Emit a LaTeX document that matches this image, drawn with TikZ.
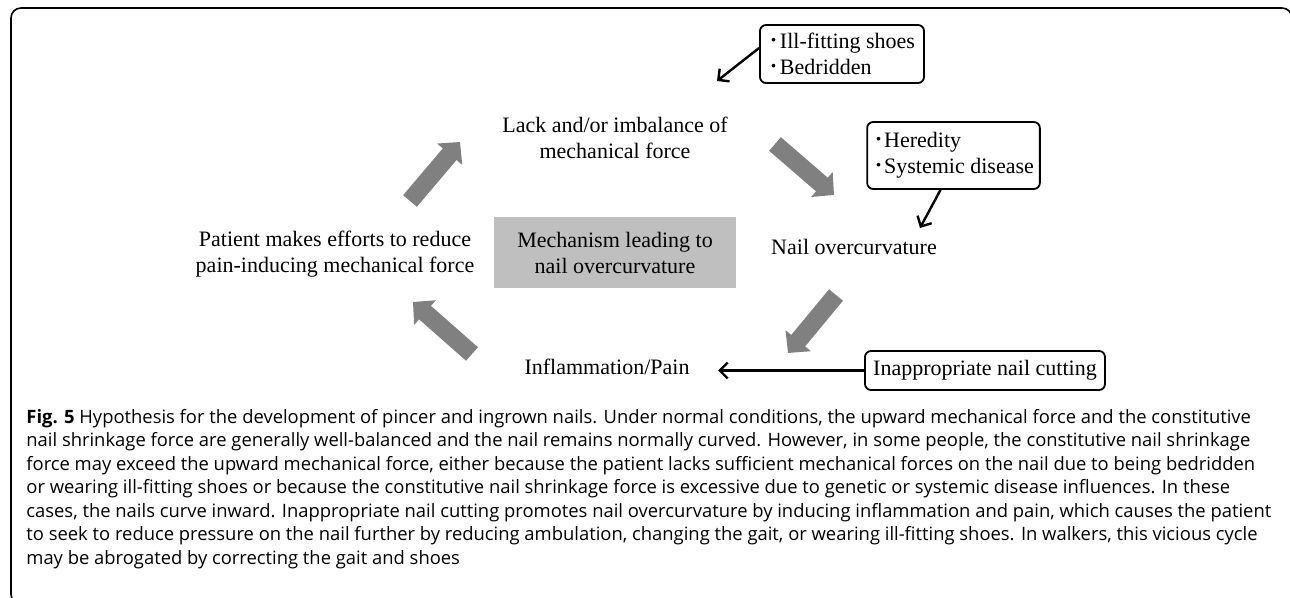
\documentclass[tikz,border=0pt]{standalone}
\usepackage{fontspec}
\setmainfont{Liberation Serif}
\newfontfamily\capfont{Open Sans}
\newfontfamily\dotfont{Noto Sans CJK JP}
\usepackage{tikz}
\usetikzlibrary{arrows.meta}
\usetikzlibrary{positioning}
\definecolor{boxgray}{HTML}{BFBFBF}
\definecolor{arrowgray}{HTML}{808080}
\tikzset{basic box/.style={draw,rounded corners=3pt,line width=0.9pt}}
\tikzset{cause box/.style={basic box,align=left,inner xsep=3pt}}
\tikzset{big arrow/.style={draw=arrowgray,
                           line width=9pt,
                           -{Triangle[length=8pt,width=16pt]}}}
\tikzset{thin arrow/.style={draw,
                            line width=1.2pt,
                            -{Straight Barb[length=4pt,width=8pt]}}}
\newcommand{\BUL}{{\dotfont ･}}
\newcommand{\CAPFONT}{\capfont\fontsize{9.2}{11.75}\selectfont}

\begin{document}
\begin{tikzpicture}
      [
      x=0.5pt,y=-0.5pt,
      every node/.style={font=\fontsize{11}{13}\selectfont},
      ]
      \useasboundingbox (0,0) rectangle (1290,598);
      \clip (0,0) rectangle (1290,598);

      % frame
      \draw [line width=0.8pt,rounded corners=5pt] (11,8) rectangle (1292,604);

      % cycle
      \node [align=center] (lack) at (615,138) {Lack and/or imbalance of\\mechanical force};
      \node (nail) at (854,247) {Nail overcurvature};
      \node (inflam) at (607,367) {Inflammation/Pain};
      \node [align=center] (patient) at (335,254) {Patient makes efforts to reduce\\pain-inducing mechanical force};
      \node [fill=boxgray,align=center,minimum width=121pt,minimum height=35.5pt] (mech) at (615,252.5)
      {Mechanism leading to\\nail overcurvature};

      % causes
      \node [cause box,minimum width=82pt,minimum height=29pt] (ill) at (842,54)
      {\BUL Ill-fitting shoes\\\BUL Bedridden};
      \node [cause box,minimum width=85.5pt,minimum height=33.5pt] (hered) at (953.5,155.5)
      {\BUL Heredity\\\BUL Systemic disease};
      \node [basic box,minimum width=120pt,minimum height=19.5pt] (cut) at (985,370.5)
      {Inappropriate nail cutting};

      % cycle arrows
      \foreach \i/\xa/\ya/\xb/\yb in
      {
      1/410/201/460/142,
      2/775/144/834/195,
      3/836/295/788/353,
      4/472/354/413/302
      }
      {
      \coordinate (C\i s) at (\xa,\ya);
      \coordinate (C\i e) at (\xb,\yb);
      \draw [big arrow] (C\i s) -- (C\i e);
      }

      % cause arrows
      \coordinate (T1) at (717,81);
      \coordinate (T2) at (920,228);
      \coordinate (T3) at (718,370.5);
      \draw [thin arrow] ([yshift=3pt]ill.west) -- (T1);
      \draw [thin arrow] ([xshift=-6.5pt]hered.south) -- (T2);
      \draw [thin arrow] (cut.west) -- (T3);

      % caption
      \node [anchor=north west,align=left,inner sep=0pt,font=\CAPFONT] (caption) at (26,409)
      {\textbf{Fig. 5} Hypothesis for the development of pincer and ingrown nails. Under normal conditions, the upward mechanical force and the constitutive\\
      nail shrinkage force are generally well-balanced and the nail remains normally curved. However, in some people, the constitutive nail shrinkage\\
      force may exceed the upward mechanical force, either because the patient lacks sufficient mechanical forces on the nail due to being bedridden\\
      or wearing ill-fitting shoes or because the constitutive nail shrinkage force is excessive due to genetic or systemic disease influences. In these\\
      cases, the nails curve inward. Inappropriate nail cutting promotes nail overcurvature by inducing inflammation and pain, which causes the patient\\
      to seek to reduce pressure on the nail further by reducing ambulation, changing the gait, or wearing ill-fitting shoes. In walkers, this vicious cycle\\
      may be abrogated by correcting the gait and shoes};

\end{tikzpicture}
\end{document}
